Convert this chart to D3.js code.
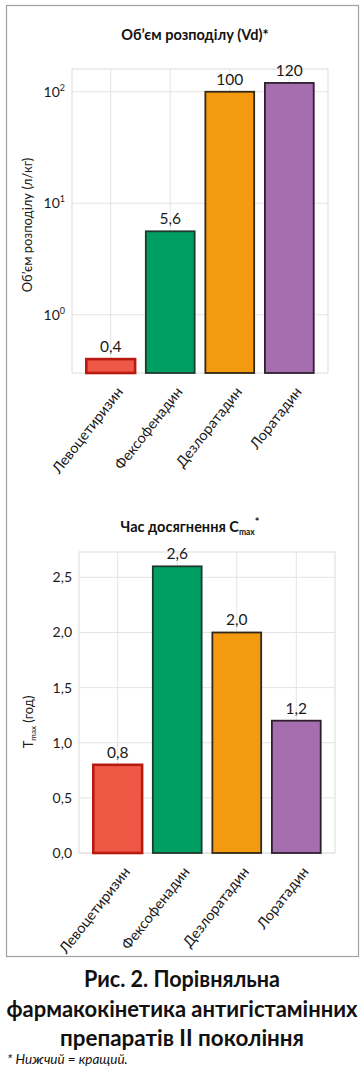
<!DOCTYPE html>
<html><head><meta charset="utf-8">
<script src="https://cdn.jsdelivr.net/npm/d3@7"></script>
<style>
html,body{margin:0;padding:0;background:#fff;}
svg{display:block;font-family:Lato,"Noto Sans",sans-serif;}
</style></head>
<body>
<svg id="c" width="363" height="1084"></svg>
<script>
const drugs = ["Левоцетиризин","Фексофенадин","Дезлоратадин","Лоратадин"];
const vdValues = [0.4, 5.6, 100, 120];
const vdLabels = ["0,4","5,6","100","120"];
const vdTicks = [1, 10, 100];
const vdTickExp = ["0","1","2"];
const tmaxValues = [0.8, 2.6, 2.0, 1.2];
const tmaxLabels = ["0,8","2,6","2,0","1,2"];
const tmaxTicks = [0, 0.5, 1.0, 1.5, 2.0, 2.5];
const tmaxTickLabels = ["0,0","0,5","1,0","1,5","2,0","2,5"];
const fills = ["#EE5845","#009E63","#F39A10","#A56EAE"];
const strokes = ["#B81A10","#1E3A2C","#302818","#2E2030"];
const captionLines = ["Рис. 2. Порівняльна","фармакокінетика антигістамінних","препаратів ІІ покоління"];
const footnote = "* Нижчий = кращий.";

const svg = d3.select("#c");
svg.append("rect").attr("x",6.5).attr("y",5.5).attr("width",352).attr("height",951)
  .attr("fill","#fff").attr("stroke","#a0a0a0").attr("stroke-width",1.2);

function panel(o){
  const g = svg.append("g");
  const x = d3.scalePoint().domain(drugs).range([o.left,o.right]).padding(0.65);
  const y = o.y;
  const bw = x.step()*0.82;
  g.append("rect").attr("x",o.left).attr("y",o.top).attr("width",o.right-o.left).attr("height",o.bottom-o.top)
    .attr("fill","none").attr("stroke","#dcdcdc").attr("stroke-width",1);
  g.selectAll(".hg").data(o.ticks).join("line")
    .attr("x1",o.left).attr("x2",o.right).attr("y1",d=>y(d)).attr("y2",d=>y(d))
    .attr("stroke","#e4e4e4").attr("stroke-width",1);
  g.selectAll(".vg").data(drugs).join("line")
    .attr("x1",d=>x(d)).attr("x2",d=>x(d)).attr("y1",o.top).attr("y2",o.bottom)
    .attr("stroke","#e4e4e4").attr("stroke-width",1);
  g.selectAll(".bar").data(o.values).join("rect")
    .attr("x",(d,i)=>x(drugs[i])-bw/2).attr("width",bw)
    .attr("y",d=>y(d)).attr("height",d=>o.bottom-y(d))
    .attr("fill",(d,i)=>fills[i]).attr("stroke",(d,i)=>strokes[i])
    .attr("stroke-width",(d,i)=>i===0?2.6:1.8);
  g.selectAll(".vl").data(o.values).join("text")
    .attr("x",(d,i)=>x(drugs[i])).attr("y",d=>y(d)-7)
    .attr("text-anchor","middle").attr("font-size",15.5).attr("fill","#1a1a1a")
    .text((d,i)=>o.labels[i]);
  const yt = g.selectAll(".yt").data(o.ticks).join("text")
    .attr("x",o.left-7).attr("y",d=>y(d)+5).attr("text-anchor","end")
    .attr("font-size",14).attr("fill","#1a1a1a");
  o.tickText(yt);
  g.selectAll(".xl").data(drugs).join("text")
    .attr("transform",d=>`translate(${x(d)+13},${o.bottom+19}) rotate(-52)`)
    .attr("text-anchor","end").attr("font-size",14.5).attr("fill","#1a1a1a")
    .text(d=>d);
  const t = g.append("text").attr("x",o.titleX).attr("y",o.titleY).attr("text-anchor","middle")
    .attr("font-size",14.5).attr("font-weight","bold").attr("fill","#111");
  o.titleText(t);
  const yl = g.append("text").attr("transform",`translate(${o.ylX},${o.ylY}) rotate(-90)`)
    .attr("text-anchor","middle").attr("font-size",13).attr("fill","#1a1a1a");
  o.ylText(yl);
}

panel({
  left:72,right:328,top:69,bottom:373,
  y:d3.scaleLog().domain([0.3,160]).range([373,69]),
  ticks:vdTicks, values:vdValues, labels:vdLabels,
  tickText:sel=>{sel.each(function(d,i){
    const s=d3.select(this);
    s.append("tspan").text("10");
    s.append("tspan").attr("dy",-6).attr("font-size",9).text(vdTickExp[i]);
  });},
  titleX:195,titleY:40,
  titleText:t=>t.text("Об’єм розподілу (Vd)*"),
  ylX:32,ylY:225,
  ylText:t=>t.text("Об’єм розподілу (л/кг)")
});

panel({
  left:79,right:335,top:552,bottom:853,
  y:d3.scaleLinear().domain([0,2.73]).range([853,552]),
  ticks:tmaxTicks, values:tmaxValues, labels:tmaxLabels,
  tickText:sel=>sel.text((d,i)=>tmaxTickLabels[i]),
  titleX:190,titleY:532,
  titleText:t=>{
    t.append("tspan").text("Час досягнення C");
    t.append("tspan").attr("dy",3).attr("font-size",8.5).text("max");
    t.append("tspan").attr("dy",-9).attr("font-size",11).text("*");
  },
  ylX:33,ylY:722,
  ylText:t=>{
    t.append("tspan").text("T");
    t.append("tspan").attr("dy",3).attr("font-size",8).text("max");
    t.append("tspan").attr("dy",-3).text(" (год)");
  }
});

const capY=[987,1017,1046];
const capW=[196,351,244];
svg.selectAll(".cap").data(captionLines).join("text")
  .attr("x",182).attr("y",(d,i)=>capY[i]).attr("text-anchor","middle")
  .attr("font-size",22).attr("font-weight","bold").attr("fill","#111")
  .attr("textLength",(d,i)=>capW[i]).attr("lengthAdjust","spacingAndGlyphs")
  .text(d=>d);
svg.append("text").attr("x",7).attr("y",1064).attr("font-size",13.5).attr("font-style","italic")
  .attr("fill","#111").text(footnote);
</script>
</body></html>
